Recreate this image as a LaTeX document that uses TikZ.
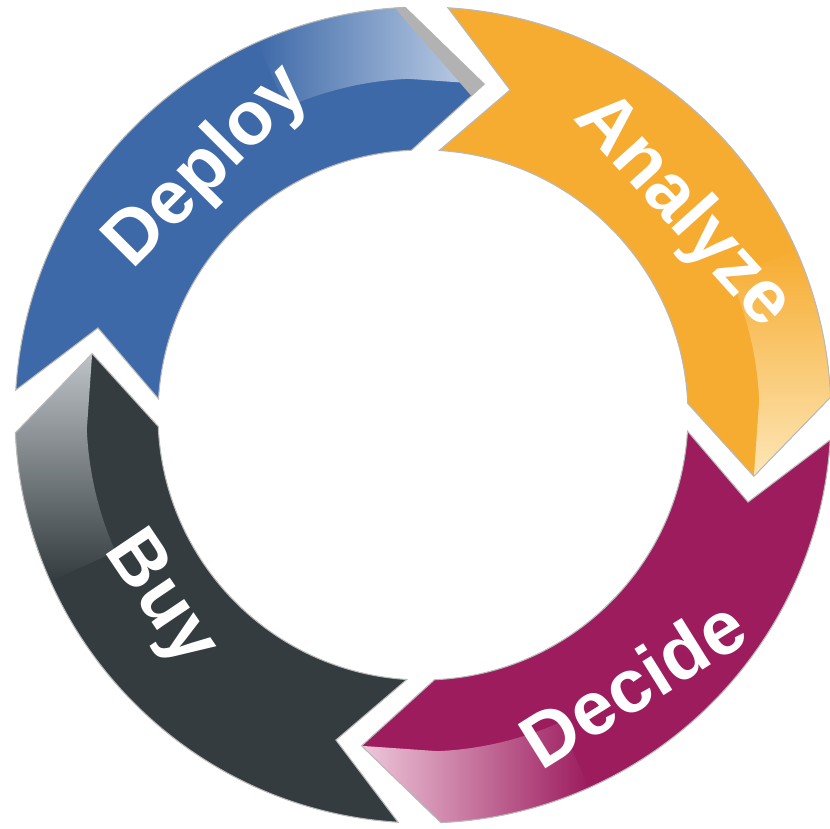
\documentclass[tikz,border=0pt]{standalone}
\usepackage{xcolor}
\usepackage{fontspec}
\setmainfont{Liberation Sans}
\usepackage{tikz}
\definecolor{deployblue}{RGB}{61,105,168}
\definecolor{deploylight}{RGB}{196,211,232}
\definecolor{analyzeorange}{RGB}{246,172,49}
\definecolor{analyzelight}{RGB}{253,230,182}
\definecolor{decidepurple}{RGB}{156,28,94}
\definecolor{decidelight}{RGB}{238,200,218}
\definecolor{buygray}{RGB}{52,60,63}
\definecolor{buylight}{RGB}{190,195,200}
\tikzset{
    segment/.style={
        draw=gray!55, line width=0.6pt
    },
    seglabel/.style={
        text=white, inner sep=0pt,
        font=\fontsize{43}{50}\selectfont\bfseries
    },
    hldeploy/.style={left color=deployblue, right color=deploylight},
    hlanalyze/.style={top color=analyzeorange, bottom color=analyzelight},
    hldecide/.style={left color=decidelight, right color=decidepurple},
    hlbuy/.style={top color=buylight, bottom color=buygray}
}
\def\Ro{8.16}
\def\Ri{5.3}
\def\Rm{6.73}
% one arrow segment, given the angle of the junction at its head
\newcommand{\segpath}[1]{
    ({#1+86.5}:\Ro) arc[start angle=#1+86.5, end angle=#1+2.5, radius=\Ro]
    -- ({#1-10.5}:\Rm) -- ({#1+2.5}:\Ri)
    arc[start angle=#1+2.5, end angle=#1+86.5, radius=\Ri]
    -- ({#1+75}:\Rm) -- cycle
}
% outer highlight near the head
\newcommand{\hlpath}[1]{
    ({#1+24}:\Ro) arc[start angle=#1+24, end angle=#1+2.5, radius=\Ro]
    -- ({#1-10.5}:\Rm) -- ({#1+2.5}:\Rm)
    arc[start angle=#1+2.5, end angle=#1+24, radius=\Rm] -- cycle
}

\begin{document}
\begin{tikzpicture}
    \useasboundingbox (-8.46,-8.28) rectangle (8.14,8.30);
    % Arrow segments (head junction / fill / highlight)
    \foreach \B/\segcol/\hl in {90/deployblue/hldeploy, 0/analyzeorange/hlanalyze,
                                -90/decidepurple/hldecide, -180/buygray/hlbuy} {
        \fill[\segcol] \segpath{\B};
        \shade[\hl] \hlpath{\B};
        \draw[segment] \segpath{\B};
    }
    % Shadow on the Deploy head
    \begin{scope}
        \clip \segpath{90};
        \draw[gray!60, line width=0.7cm] (92.5:\Ro+0.3) -- (79.5:\Rm);
    \end{scope}
    % Labels
    \node[seglabel, rotate=45]  (deploy)  at (131:6.55) {Deploy};
    \node[seglabel, rotate=-48] (analyze) at (38:6.6)   {Analyze};
    \node[seglabel, rotate=32]  (decide)  at (-52:6.8)  {Decide};
    \node[seglabel, rotate=-56] (buy)     at (215:6.45) {Buy};
\end{tikzpicture}
\end{document}
